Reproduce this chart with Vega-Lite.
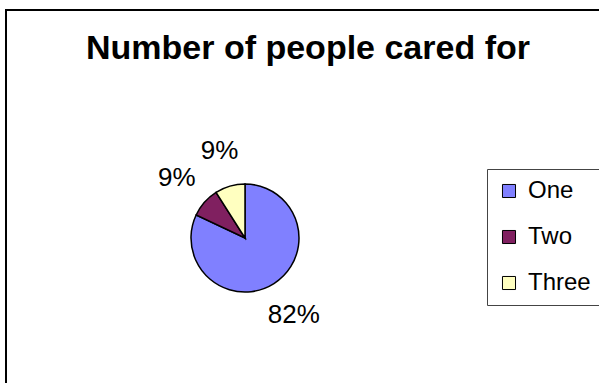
{
  "$schema": "https://vega.github.io/schema/vega-lite/v6.json",
  "width": 600,
  "height": 380,
  "autosize": "none",
  "padding": {"left": 6, "top": 10, "right": 0, "bottom": 0},
  "background": "white",
  "view": {"stroke": "black", "strokeWidth": 2},
  "title": {
    "text": "Number of people cared for",
    "font": "Liberation Sans",
    "fontSize": 34,
    "fontWeight": "bold",
    "color": "black",
    "anchor": "start",
    "frame": "group",
    "orient": "top",
    "baseline": "alphabetic",
    "offset": -83,
    "dx": 80
  },
  "config": {
    "view": {"stroke": "black", "strokeWidth": 2},
    "style": {"cell": {"stroke": "black", "strokeWidth": 2}},
    "font": "Liberation Sans"
  },
  "data": {
    "values": [
      {"category": "One", "value": 82, "label": "82%", "order": 1},
      {"category": "Two", "value": 9, "label": "9%", "order": 2},
      {"category": "Three", "value": 9, "label": "9%", "order": 3}
    ]
  },
  "encoding": {
    "theta": {"field": "value", "type": "quantitative", "stack": true},
    "order": {"field": "order", "type": "quantitative"}
  },
  "layer": [
    {
      "mark": {"type": "arc", "outerRadius": 54, "stroke": "black", "strokeWidth": 1.5, "xOffset": -61, "yOffset": 38},
      "encoding": {
        "color": {
          "field": "category",
          "type": "nominal",
          "sort": ["One", "Two", "Three"],
          "scale": {"domain": ["One", "Two", "Three"], "range": ["#8080FF", "#802060", "#FFFFC0"]},
          "legend": {
            "title": null,
            "orient": "none",
            "legendX": 481,
            "legendY": 159,
            "symbolType": "square",
            "symbolSize": 170,
            "symbolStrokeColor": "black",
            "symbolStrokeWidth": 1,
            "symbolOpacity": 1,
            "labelFontSize": 24,
            "labelFont": "Liberation Sans",
            "labelColor": "black",
            "rowPadding": 22,
            "padding": 10,
            "strokeColor": "#444",
            "fillColor": "white",
            "labelOffset": 7
          }
        }
      }
    },
    {
      "mark": {"type": "text", "radius": 91, "fontSize": 26, "font": "Liberation Sans", "color": "black", "align": "center", "baseline": "middle", "xOffset": -61, "yOffset": 38},
      "encoding": {
        "text": {"field": "label", "type": "nominal"}
      }
    }
  ]
}
